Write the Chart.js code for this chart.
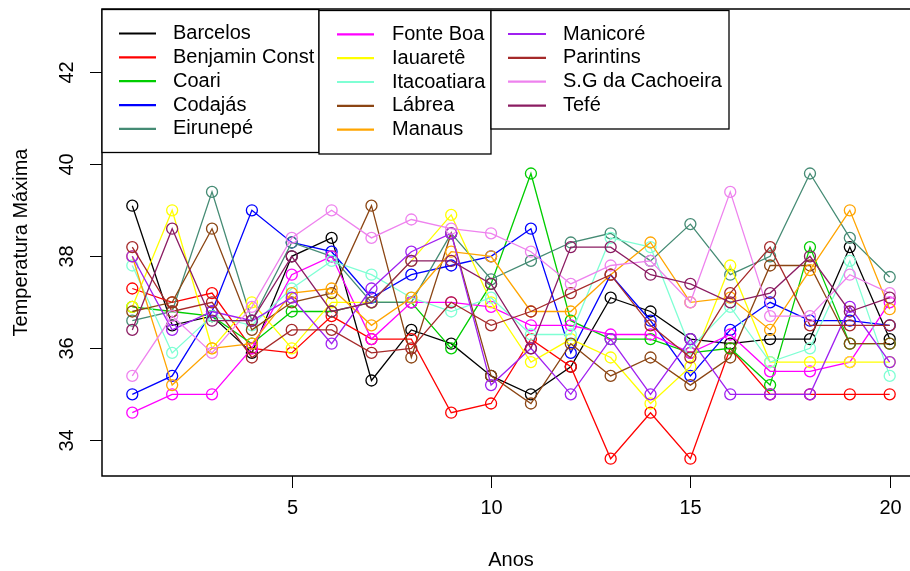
<!DOCTYPE html>
<html>
<head>
<meta charset="utf-8">
<script src="https://cdn.jsdelivr.net/npm/chart.js@4/dist/chart.umd.min.js"></script>
<style>
  html, body { margin: 0; padding: 0; background: #fff; overflow: hidden; width: 910px; height: 571px; }
  canvas { display: block; }
</style>
</head>
<body>
<canvas id="c" width="930" height="571" style="width:930px;height:571px"></canvas>
<script>
// Annual maximum temperature per station
const anos = [1, 2, 3, 4, 5, 6, 7, 8, 9, 10, 11, 12, 13, 14, 15, 16, 17, 18, 19, 20];

const barcelos    = [39.1, 36.5, 36.7, 35.9, 38.0, 38.4, 35.3, 36.4, 36.1, 35.4, 35.0, 35.6, 37.1, 36.8, 36.2, 36.1, 36.2, 36.2, 38.2, 36.2];
const benjamin    = [37.3, 37.0, 37.2, 36.0, 35.9, 36.7, 36.2, 36.2, 34.6, 34.8, 36.2, 35.6, 33.6, 34.6, 33.6, 36.0, 35.0, 35.0, 35.0, 35.0];
const coari       = [36.9, 36.8, 36.7, 36.1, 36.8, 36.8, 37.0, 37.0, 36.0, 37.4, 39.8, 36.6, 36.2, 36.2, 35.9, 36.0, 35.2, 38.2, 36.1, 36.1];
const codajas     = [35.0, 35.4, 36.8, 39.0, 38.3, 38.1, 37.1, 37.6, 37.8, 38.0, 38.6, 35.9, 37.6, 36.6, 35.4, 36.4, 37.0, 36.6, 36.6, 36.5];
const eirunepe    = [36.6, 36.8, 39.4, 36.6, 38.3, 38.0, 37.0, 37.0, 38.5, 37.5, 37.9, 38.3, 38.5, 37.9, 38.7, 37.6, 38.0, 39.8, 38.4, 37.55];
const fonteBoa    = [34.6, 35.0, 35.0, 36.0, 37.6, 38.0, 36.2, 37.0, 37.0, 36.9, 36.5, 36.5, 36.3, 36.3, 35.9, 36.3, 35.5, 35.5, 35.7, 37.0];
const iauarete    = [36.9, 39.0, 36.0, 37.0, 36.0, 37.0, 37.0, 37.9, 38.9, 37.0, 35.7, 36.2, 35.8, 34.8, 35.6, 37.8, 35.7, 35.7, 35.7, 35.7];
const itacoatiara = [37.8, 35.9, 36.7, 36.5, 37.3, 37.9, 37.6, 37.1, 36.8, 37.1, 36.3, 36.3, 38.4, 38.2, 36.0, 36.9, 35.7, 36.0, 37.9, 35.4];
const labrea      = [36.8, 37.0, 38.6, 36.4, 37.0, 37.2, 39.1, 35.8, 38.5, 35.4, 34.8, 36.1, 35.4, 35.8, 35.2, 35.8, 37.8, 37.8, 36.1, 36.1];
const manaus      = [38.0, 35.2, 36.0, 36.1, 37.2, 37.3, 36.5, 37.1, 38.1, 38.0, 36.8, 36.8, 37.6, 38.3, 37.0, 37.1, 36.4, 37.7, 39.0, 36.85];
const manicore    = [38.0, 36.4, 36.8, 36.6, 37.1, 36.1, 37.3, 38.1, 38.5, 35.2, 36.0, 35.0, 36.2, 35.0, 36.2, 35.0, 35.0, 35.0, 36.9, 35.7];
const parintins   = [38.2, 36.8, 37.0, 35.8, 36.4, 36.4, 35.9, 36.0, 37.0, 36.5, 36.8, 37.2, 37.6, 36.5, 35.8, 37.2, 38.2, 36.5, 36.5, 36.5];
const sgCachoeira = [35.4, 36.7, 35.9, 36.9, 38.4, 39.0, 38.4, 38.8, 38.6, 38.5, 38.1, 37.4, 37.8, 37.9, 37.0, 39.4, 36.7, 36.7, 37.6, 37.2];
const tefe        = [36.4, 38.6, 36.6, 36.6, 38.0, 36.8, 37.0, 37.9, 37.9, 37.4, 36.0, 38.2, 38.2, 37.6, 37.4, 37.0, 37.2, 38.0, 36.8, 37.1];

const estacoes = ['Barcelos', 'Benjamin Const', 'Coari', 'Codajás', 'Eirunepé',
                  'Fonte Boa', 'Iauaretê', 'Itacoatiara', 'Lábrea', 'Manaus',
                  'Manicoré', 'Parintins', 'S.G da Cachoeira', 'Tefé'];
const series = [barcelos, benjamin, coari, codajas, eirunepe, fonteBoa, iauarete,
                itacoatiara, labrea, manaus, manicore, parintins, sgCachoeira, tefe];
const cores = ['#000000', '#FF0000', '#00CD00', '#0000FF', '#458B74',
               '#FF00FF', '#FFFF00', '#7FFFD4', '#8B4513', '#FFA500',
               '#A020F0', '#A52A2A', '#EE82EE', '#8B1C62'];

const xTicks = [5, 10, 15, 20];
const yTicks = [34, 36, 38, 40, 42];
const xTitle = 'Anos';
const yTitle = 'Temperatura Máxima';

const FONT = '20px "Liberation Sans", Arial, sans-serif';

const datasets = series.map((vals, i) => ({
  label: estacoes[i],
  data: anos.map((a, k) => ({ x: a, y: vals[k] })),
  borderColor: cores[i],
  borderWidth: 1.3,
  pointStyle: 'circle',
  pointRadius: 5.5,
  pointBorderWidth: 1.3,
  pointBorderColor: cores[i],
  pointBackgroundColor: 'rgba(0,0,0,0)',
  showLine: true,
  tension: 0,
  order: series.length - i
}));

// Frame, axes, titles and the three-column legend
const decor = {
  id: 'decor',
  afterDraw(chart) {
    const ctx = chart.ctx;
    const a = chart.chartArea;
    const xs = chart.scales.x, ys = chart.scales.y;
    ctx.save();
    ctx.strokeStyle = '#000';
    ctx.fillStyle = '#000';
    ctx.lineWidth = 1.5;
    // box (left, top, bottom)
    ctx.beginPath();
    ctx.moveTo(a.right, a.top); ctx.lineTo(a.left, a.top);
    ctx.lineTo(a.left, a.bottom); ctx.lineTo(a.right, a.bottom);
    ctx.stroke();

    ctx.lineWidth = 1;
    ctx.font = FONT;
    // x ticks
    ctx.textAlign = 'center';
    ctx.textBaseline = 'middle';
    xTicks.forEach(t => {
      const px = Math.round(xs.getPixelForValue(t)) + 0.5;
      ctx.beginPath(); ctx.moveTo(px, a.bottom); ctx.lineTo(px, a.bottom + 12); ctx.stroke();
      ctx.fillText(String(t), px, a.bottom + 32);
    });
    // y ticks (labels parallel to the axis)
    yTicks.forEach(t => {
      const py = Math.round(ys.getPixelForValue(t)) + 0.5;
      ctx.beginPath(); ctx.moveTo(a.left, py); ctx.lineTo(a.left - 12, py); ctx.stroke();
      ctx.save();
      ctx.translate(a.left - 35, py);
      ctx.rotate(-Math.PI / 2);
      ctx.fillText(String(t), 0, 0);
      ctx.restore();
    });
    // axis titles
    ctx.fillText(xTitle, (a.left + a.right) / 2, 560);
    ctx.save();
    ctx.translate(21, (a.top + a.bottom) / 2);
    ctx.rotate(-Math.PI / 2);
    ctx.fillText(yTitle, 0, 0);
    ctx.restore();

    // legend blocks
    const blocks = [
      { from: 0, to: 5,  x: 102, y: 9.5,  w: 217, h: 143, l0: 119, l1: 156, tx: 173, r0: 33.5 },
      { from: 5, to: 10, x: 319, y: 10.5, w: 172, h: 143.5, l0: 337, l1: 374, tx: 392, r0: 34.3 },
      { from: 10, to: 14, x: 491, y: 10.5, w: 238, h: 118.5, l0: 508, l1: 546, tx: 563, r0: 34 }
    ];
    const step = 23.85;
    ctx.textAlign = 'left';
    blocks.forEach(b => {
      ctx.fillStyle = '#fff';
      ctx.fillRect(b.x, b.y, b.w, b.h);
      ctx.strokeStyle = '#000';
      ctx.lineWidth = 1.3;
      ctx.strokeRect(b.x, b.y, b.w, b.h);
      for (let i = b.from; i < b.to; i++) {
        const ds = chart.data.datasets[i];
        const ry = b.r0 + (i - b.from) * step;
        ctx.strokeStyle = ds.borderColor;
        ctx.lineWidth = 2.2;
        ctx.beginPath(); ctx.moveTo(b.l0, ry); ctx.lineTo(b.l1, ry); ctx.stroke();
        ctx.fillStyle = '#000';
        ctx.fillText(ds.label, b.tx, ry);
      }
    });
    ctx.restore();
  }
};

new Chart(document.getElementById('c'), {
  type: 'scatter',
  data: { datasets },
  options: {
    responsive: false,
    animation: false,
    devicePixelRatio: 1,
    layout: { padding: { left: 102, top: 9, right: 10, bottom: 95 } },
    plugins: { legend: { display: false }, tooltip: { enabled: false } },
    scales: {
      x: { type: 'linear', min: 0.24, max: 20.76, display: false },
      y: { type: 'linear', min: 33.224, max: 43.376, display: false }
    }
  },
  plugins: [decor]
});
</script>
</body>
</html>
